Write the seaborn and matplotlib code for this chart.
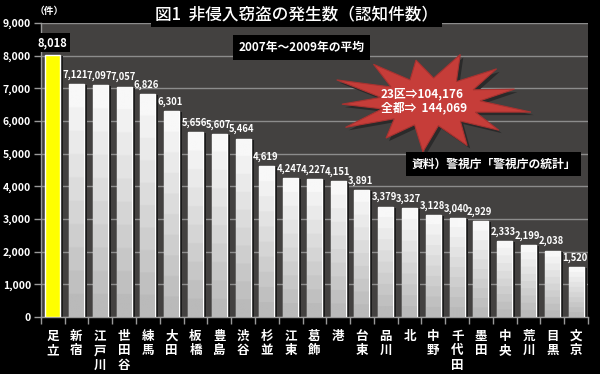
import numpy as np
import seaborn as sns
import matplotlib.pyplot as plt
import matplotlib.transforms as mtransforms
from matplotlib.patches import Rectangle, Polygon
from matplotlib.colors import LinearSegmentedColormap

# データ（2007年～2009年の平均）
wards = ['足立', '新宿', '江戸川', '世田谷', '練馬', '大田', '板橋', '豊島', '渋谷', '杉並',
         '江東', '葛飾', '港', '台東', '品川', '北', '中野', '千代田', '墨田', '中央',
         '荒川', '目黒', '文京']
counts = [8018, 7121, 7097, 7057, 6826, 6301, 5656, 5607, 5464, 4619,
          4247, 4227, 4151, 3891, 3379, 3327, 3128, 3040, 2929, 2333,
          2199, 2038, 1520]
yticks = [0, 1000, 2000, 3000, 4000, 5000, 6000, 7000, 8000, 9000]

sns.set_style('dark')
plt.rcParams['font.family'] = ['Noto Sans CJK JP', 'DejaVu Sans']
plt.rcParams['font.weight'] = 'bold'

fig = plt.figure(figsize=(6, 3.74), dpi=100, facecolor='black')
ax = fig.add_axes([0.068, 0.152, 0.912, 0.7865])
ax.set_facecolor('#434140')

sns.barplot(x=wards, y=counts, color='#e0e0e0', width=0.63, ax=ax, zorder=3, saturation=1)

grad_cmap = LinearSegmentedColormap.from_list('g', ['#bababa', '#f8f8f8'], N=10)
grad = np.linspace(0, 1, 100).reshape(-1, 1)
shadow = mtransforms.ScaledTranslation(3 / 100, -1 / 100, fig.dpi_scale_trans)
for i, p in enumerate(ax.patches):
    x0, w, h = p.get_x(), p.get_width(), p.get_height()
    sh = Rectangle((x0, 0), w, h, facecolor='#1a1a1a', edgecolor='none',
                   transform=ax.transData + shadow, zorder=2)
    ax.add_patch(sh)
    if i == 0:
        p.set_facecolor('#ffff00')
    else:
        im = ax.imshow(grad, extent=[x0, x0 + w, 0, h], origin='lower', aspect='auto',
                       cmap=grad_cmap, zorder=4)
        im.set_clip_path(p)
    # 値ラベル
    if i == 0:
        ax.text(p.get_x() + w / 2, h + 180, f'{counts[i]:,}', ha='center', va='bottom',
                color='white', fontsize=8, fontweight='bold', zorder=6,
                bbox=dict(facecolor='black', edgecolor='none', pad=2))
    else:
        ax.text(p.get_x() + w / 2 - 0.05, h + 130, f'{counts[i]:,}', ha='center', va='bottom',
                color='white', fontsize=6.8, fontweight='bold', zorder=6)

ax.set_xlim(-0.5, len(wards) - 0.5)
ax.set_ylim(0, 9000)
ax.set_yticks(yticks)
ax.set_yticklabels([f'{v:,}' for v in yticks], color='white', fontsize=7.5, fontweight='bold')
ax.set_xticks(range(len(wards)))
ax.set_xticklabels(['\n'.join(w) for w in wards], color='white', fontsize=9,
                   fontweight='bold', linespacing=1.15)
ax.set_xticks(np.arange(-0.5, len(wards), 1), minor=True)
ax.tick_params(axis='x', which='major', length=0, pad=9)
ax.tick_params(axis='x', which='minor', length=5, color='#9a9a9a', width=1, bottom=True)
ax.tick_params(axis='y', length=5, color='#9a9a9a', width=1, left=True, pad=2)
ax.grid(axis='y', color='#8c8c8c', linewidth=1, zorder=1)
ax.grid(axis='x', visible=False)
ax.set_axisbelow(True)
for s in ['top', 'right']:
    ax.spines[s].set_visible(False)
for s in ['left', 'bottom']:
    ax.spines[s].set_color('#9a9a9a')
    ax.spines[s].set_linewidth(1)
ax.set_xlabel('')
ax.set_ylabel('')

# 単位
fig.text(0.058, 0.985, '（件）', color='white', fontsize=7, fontweight='bold', ha='left', va='top')

# タイトル
fig.text(0.494, 0.962, '図1  非侵入窃盗の発生数（認知件数）', color='white', fontsize=12,
         fontweight='medium', ha='center', va='center', zorder=10,
         bbox=dict(facecolor='black', edgecolor='none', pad=3))
fig.text(0.503, 0.873, '2007年～2009年の平均', color='white', fontsize=8.5,
         fontweight='bold', ha='center', va='center', zorder=10,
         bbox=dict(facecolor='black', edgecolor='none', pad=4))

# 爆発形の吹き出し
cx, cy = 430 / 600, 1 - 102 / 374
n_pts = 13
outer = [1.0, 0.85, 0.95, 1.05, 0.9, 1.0, 0.85, 1.0, 0.95, 0.9, 1.05, 0.9, 0.95]
ang0 = np.deg2rad(72)
pts = []
for k in range(n_pts * 2):
    a = ang0 + np.pi * k / n_pts
    if k % 2 == 0:
        r = outer[k // 2]
        rx, ry = 98 * r, 50 * r
    else:
        rx, ry = 50, 24
    pts.append((cx + rx * np.cos(a) / 600, cy + ry * np.sin(a) / 374))
shadow_pts = [(x + 3 / 600, y - 3 / 374) for x, y in pts]
fig.patches.append(Polygon(shadow_pts, closed=True, facecolor='#2a2a2a', edgecolor='none',
                           transform=fig.transFigure, zorder=7))
fig.patches.append(Polygon(pts, closed=True, facecolor='#c63d39', edgecolor='#a83230',
                           linewidth=0.8, transform=fig.transFigure, zorder=8))
fig.text(0.635, 1 - 101 / 374, '23区⇒104,176\n全都⇒  144,069', color='white', fontsize=8.5,
         fontweight='bold', ha='left', va='center', linespacing=1.15, zorder=10)

# 出典
fig.text(0.8225, 1 - 164 / 374, '資料）警視庁「警視庁の統計」', color='white', fontsize=8.5,
         fontweight='bold', ha='center', va='center', zorder=10,
         bbox=dict(facecolor='black', edgecolor='none', pad=4))

fig.savefig('out.png', dpi=100, facecolor='black')
